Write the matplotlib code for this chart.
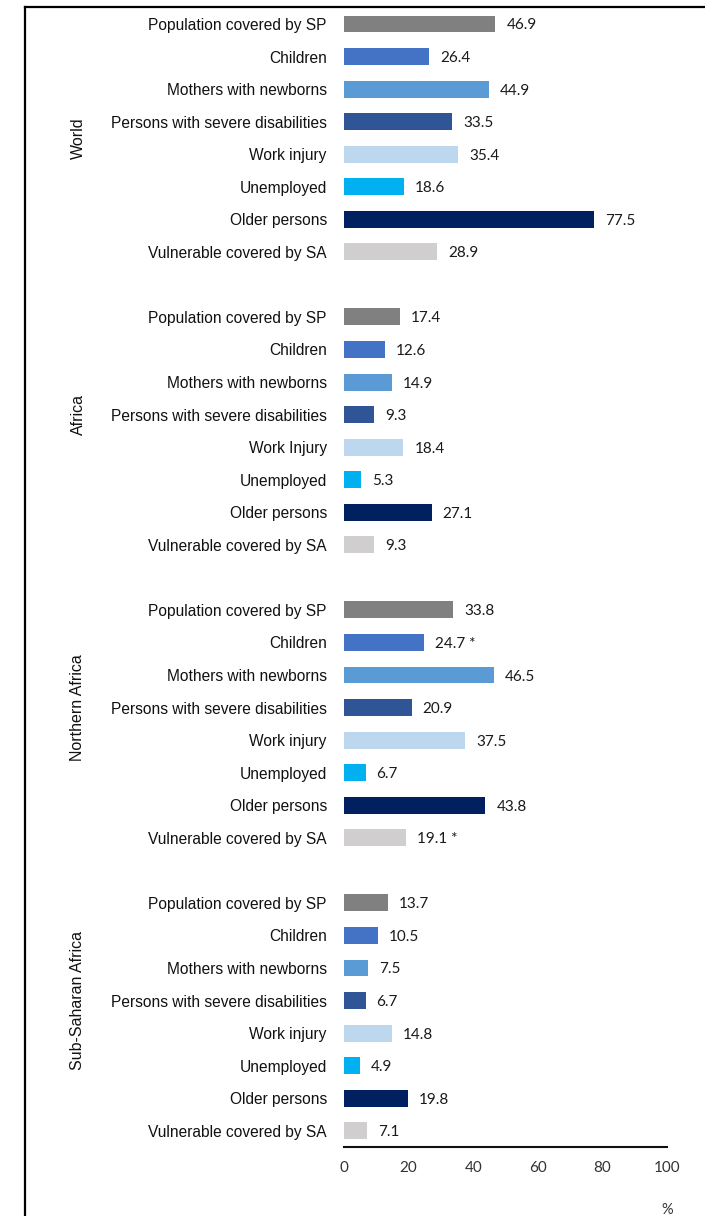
"""
Social protection coverage by region and group.
"""

import matplotlib
matplotlib.use("Agg")
import matplotlib.pyplot as plt
from matplotlib import font_manager
from matplotlib.lines import Line2D


regions = ["World", "Africa", "Northern Africa", "Sub-Saharan Africa"]

labels_world = [
    "Population covered by SP", "Children", "Mothers with newborns",
    "Persons with severe disabilities", "Work injury", "Unemployed",
    "Older persons", "Vulnerable covered by SA",
]
labels_africa = [
    "Population covered by SP", "Children", "Mothers with newborns",
    "Persons with severe disabilities", "Work Injury", "Unemployed",
    "Older persons", "Vulnerable covered by SA",
]
labels_north = labels_world
labels_ssa = labels_world

world = [46.9, 26.4, 44.9, 33.5, 35.4, 18.6, 77.5, 28.9]
africa = [17.4, 12.6, 14.9, 9.3, 18.4, 5.3, 27.1, 9.3]
northern_africa = [33.8, 24.7, 46.5, 20.9, 37.5, 6.7, 43.8, 19.1]
sub_saharan = [13.7, 10.5, 7.5, 6.7, 14.8, 4.9, 19.8, 7.1]

# footnote marks after some values
marks_north = ["", " *", "", "", "", "", "", " *"]

colors = [
    "#808080", "#4472C4", "#5B9BD5", "#2F5597",
    "#BDD7EE", "#00B0F0", "#002060", "#D0CECE",
]

xticks = [0, 20, 40, 60, 80, 100]


available = {f.name for f in font_manager.fontManager.ttflist}
label_font = "Liberation Sans Narrow" if "Liberation Sans Narrow" in available else "Liberation Sans"
num_font = "Lato"

groups = [
    (labels_world, world, [""] * 8),
    (labels_africa, africa, [""] * 8),
    (labels_north, northern_africa, marks_north),
    (labels_ssa, sub_saharan, [""] * 8),
]

fig = plt.figure(figsize=(7.05, 12.16), dpi=100)
ax = fig.add_axes([344 / 705, 1 - 1147 / 1216, 323 / 705, (1147 - 7.7) / 1216])

row = 0
ticks_y = []
tick_labels = []
group_centers = []
for labels, values, marks in groups:
    # the spacer row above a group counts as part of that group
    start = row - 1 if row > 0 else row
    for lab, val, col, mk in zip(labels, values, colors, marks):
        ax.barh(row, val, height=0.52, color=col)
        ax.text(val + 3.4, row, f"{val:.1f}{mk}", va="center_baseline", ha="left",
                fontsize=11, family=num_font, color="#1a1a1a")
        ticks_y.append(row)
        tick_labels.append(lab)
        row += 1
    group_centers.append((start + row - 1) / 2)
    row += 1

ax.set_ylim(row - 1.5, -0.5)
ax.set_xlim(0, 100)
ax.set_yticks(ticks_y)
ax.set_yticklabels(tick_labels, fontsize=11.2, family=label_font, color="#111111")
ax.tick_params(axis="y", length=0, pad=12.4)
ax.set_xticks(xticks)
ax.set_xticklabels([str(t) for t in xticks], fontsize=11, family=num_font, color="#333333")
ax.tick_params(axis="x", length=0, pad=10)

for side in ["top", "right", "left"]:
    ax.spines[side].set_visible(False)
ax.spines["bottom"].set_linewidth(1.5)
ax.spines["bottom"].set_color("#111111")

# region names, rotated, to the left of the category labels
for name, yc in zip(regions, group_centers):
    _, ypix = ax.transData.transform((0, yc))
    fig.text(78 / 705, ypix / 1216, name, rotation=90, ha="center", va="center",
             fontsize=11.5, family=label_font, color="#111111")

fig.text(667 / 705, 1 - 1210 / 1216, "%", ha="center", va="center",
         fontsize=10.5, family=num_font, color="#333333")

# open frame: left and top edges only
fig.add_artist(Line2D([25 / 705, 25 / 705], [0, 1 - 7 / 1216],
                      transform=fig.transFigure, color="black", lw=1.6))
fig.add_artist(Line2D([25 / 705, 1], [1 - 7 / 1216, 1 - 7 / 1216],
                      transform=fig.transFigure, color="black", lw=1.6))

fig.savefig("out.png", dpi=100)
